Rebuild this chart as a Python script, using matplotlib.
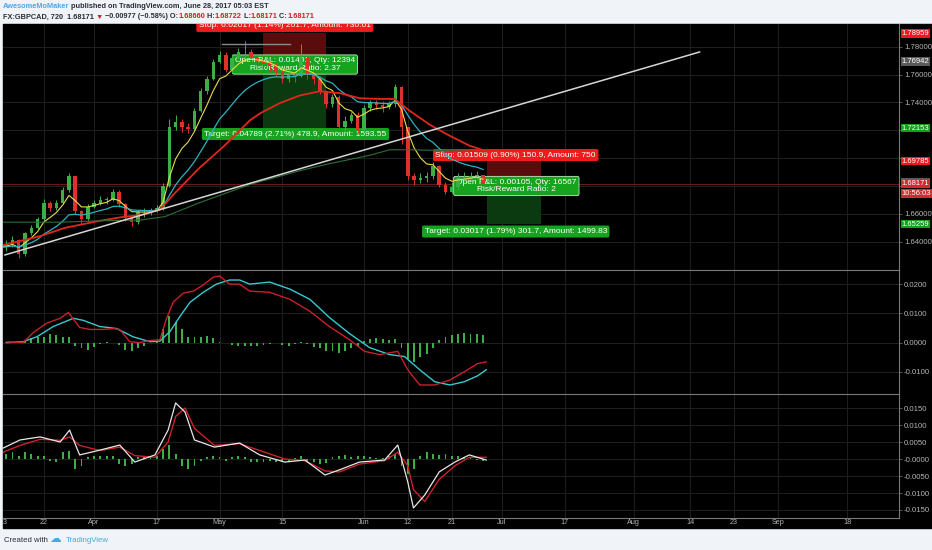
import numpy as np
import pandas as pd
import matplotlib
matplotlib.use("Agg")
import matplotlib.pyplot as plt
from matplotlib.patches import Rectangle
from matplotlib.text import Annotation
from matplotlib.transforms import blended_transform_factory

# ---- data: one candle per trading day, day 0 = 13 Mar 2017 ----
first_open = 1.640
closes = [1.636, 1.638, 1.641, 1.631, 1.646, 1.650, 1.656, 1.668, 1.664, 1.668,
          1.677, 1.687, 1.662, 1.656, 1.665, 1.668, 1.670, 1.670, 1.676, 1.667,
          1.657, 1.654, 1.661, 1.661, 1.662, 1.664, 1.680, 1.722, 1.726, 1.722,
          1.721, 1.734, 1.748, 1.757, 1.769, 1.774, 1.763, 1.772, 1.776, 1.776,
          1.772, 1.770, 1.768, 1.766, 1.762, 1.757, 1.760, 1.759, 1.772, 1.760,
          1.757, 1.748, 1.739, 1.744, 1.722, 1.727, 1.731, 1.720, 1.736, 1.740,
          1.738, 1.737, 1.739, 1.751, 1.722, 1.687, 1.684, 1.686, 1.687, 1.694,
          1.681, 1.676, 1.679, 1.686, 1.686, 1.687, 1.688, 1.6817]
highs = [1.643, 1.641, 1.644, 1.642, 1.647, 1.652, 1.658, 1.671, 1.669, 1.670,
         1.679, 1.689, 1.687, 1.663, 1.667, 1.670, 1.673, 1.672, 1.678, 1.677,
         1.668, 1.658, 1.663, 1.664, 1.664, 1.666, 1.682, 1.728, 1.731, 1.728,
         1.725, 1.736, 1.750, 1.759, 1.771, 1.777, 1.776, 1.775, 1.779, 1.784,
         1.778, 1.774, 1.773, 1.770, 1.768, 1.763, 1.762, 1.762, 1.782, 1.773,
         1.762, 1.758, 1.749, 1.746, 1.745, 1.730, 1.733, 1.733, 1.738, 1.742,
         1.742, 1.741, 1.741, 1.753, 1.752, 1.722, 1.689, 1.689, 1.690, 1.697,
         1.695, 1.683, 1.683, 1.689, 1.690, 1.690, 1.691, 1.6875]
lows = [1.634, 1.633, 1.636, 1.628, 1.630, 1.645, 1.649, 1.655, 1.662, 1.663,
        1.667, 1.676, 1.660, 1.653, 1.655, 1.664, 1.666, 1.667, 1.669, 1.665,
        1.655, 1.651, 1.653, 1.658, 1.659, 1.661, 1.663, 1.679, 1.720, 1.719,
        1.718, 1.720, 1.733, 1.746, 1.756, 1.768, 1.762, 1.761, 1.770, 1.772,
        1.768, 1.766, 1.764, 1.762, 1.758, 1.754, 1.755, 1.755, 1.758, 1.757,
        1.753, 1.746, 1.736, 1.737, 1.720, 1.719, 1.725, 1.718, 1.719, 1.734,
        1.735, 1.733, 1.735, 1.737, 1.710, 1.684, 1.681, 1.682, 1.683, 1.685,
        1.679, 1.674, 1.675, 1.677, 1.683, 1.684, 1.685, 1.681]

# slow moving averages (read at points)
red_ma_days = [0, 6.4, 10.4, 15.9, 19.9, 22.3, 25.5, 27.9, 31.8, 35.8, 39.8, 41.4,
               44.6, 47.8, 51, 54.1, 57.3, 60.5, 62.9, 65.3, 68.5, 71.7, 74.8, 77.5]
red_ma_vals = [1.637, 1.644, 1.650, 1.655, 1.658, 1.659, 1.663, 1.675, 1.693, 1.709,
               1.727, 1.732, 1.7395, 1.745, 1.748, 1.7467, 1.743, 1.7425, 1.7425,
               1.734, 1.724, 1.716, 1.709, 1.705]
green_ma_days = [0, 9.6, 15.9, 22.3, 26.3, 31.8, 39.8, 47.8, 52.5, 58.9, 62.1, 65.3, 70.1, 77.5]
green_ma_vals = [1.654, 1.654, 1.655, 1.6555, 1.658, 1.668, 1.681, 1.691, 1.696, 1.702,
                 1.706, 1.706, 1.7055, 1.7045]

trend_days = [0.8, 111.5]
trend_vals = [1.6305, 1.7762]

# MACD panel
macd_days = [1.1, 3.7, 5.3, 7.4, 9.6, 10.9, 12.7, 14.3, 16.5, 18, 19.1, 20.7, 22.3, 23.9,
             25.5, 26.5, 27.6, 29.2, 30.8, 32.4, 34, 35, 36.6, 38.2, 39.8, 43, 46.2,
             49.4, 52.5, 55.7, 58.1, 60.5, 63.4, 65, 66.9, 69.3, 71.7, 74, 76.1, 77.5]
macd_line = [0.0002, 0.0, 0.0034, 0.0066, 0.0083, 0.0103, 0.0052, 0.0045, 0.0045, 0.0048,
             0.0045, 0.0003, 0.0, 0.0007, 0.001, 0.0079, 0.0138, 0.0169, 0.0176, 0.0197,
             0.0224, 0.0228, 0.020, 0.020, 0.0176, 0.0172, 0.0148, 0.0107, 0.0055, 0.001,
             -0.003, -0.0041, -0.003, -0.0093, -0.0145, -0.0145, -0.0128, -0.010, -0.0072,
             -0.0066]
signal_days = [1.1, 3.7, 5.9, 8.5, 11.7, 13.3, 15.9, 18.6, 21.2, 23.9, 25.5, 27.1, 28.7,
               30.3, 32.4, 34.5, 36.6, 38.2, 39.8, 43, 46.2, 49.4, 52.5, 55.7, 58.9, 62.1,
               64.5, 66.9, 69.3, 71.7, 74, 76.1, 77.5]
signal_line = [0.0, 0.0003, 0.002, 0.0055, 0.0083, 0.0076, 0.0055, 0.0048, 0.002, 0.0003,
               0.0005, 0.0038, 0.009, 0.0138, 0.0172, 0.020, 0.0214, 0.0214, 0.020, 0.0207,
               0.0183, 0.0148, 0.0086, 0.0031, -0.0017, -0.0041, -0.0048, -0.0093, -0.0134,
               -0.0145, -0.0134, -0.0114, -0.0093]
macd_hist = [-0.0003, 0.0002, -0.0003, 0.0001, 0.001, 0.0015, 0.002, 0.002, 0.0028, 0.0025,
             0.002, 0.002, -0.0012, -0.002, -0.0024, -0.0015, -0.0005, 0.0002, -0.0003, -0.0008,
             -0.0025, -0.003, -0.002, -0.001, -0.0002, 0.0002, 0.0045, 0.009, 0.007, 0.0045,
             0.002, 0.0018, 0.002, 0.0022, 0.0015, 0.0003, -0.0002, -0.0008, -0.0013, -0.0013,
             -0.0012, -0.001, -0.0008, -0.0005, -0.0003, -0.0008, -0.001, -0.0005, 0.0003, -0.0005,
             -0.0015, -0.002, -0.0028, -0.003, -0.0035, -0.003, -0.002, -0.001, 0.0005, 0.0012,
             0.0015, 0.0012, 0.001, 0.0013, -0.002, -0.0055, -0.0065, -0.005, -0.004, -0.002,
             0.0008, 0.0018, 0.0025, 0.003, 0.0032, 0.003, 0.0028, 0.0025]

# second oscillator panel
osc_days = [0.5, 3.2, 6.4, 9.6, 11.1, 12.7, 15.9, 19.1, 21.5, 24.7, 26.8, 28, 29.5, 31,
            34.2, 38.2, 41.4, 45.4, 48.6, 51.8, 54.1, 57.3, 61.3, 63.4, 65, 65.9, 67.7,
            70, 72.5, 74.8, 77.5]
osc_fast = [0.0032, 0.0056, 0.0065, 0.005, 0.0085, 0.0012, 0.0026, 0.0041, -0.0009, 0.0012,
            0.0085, 0.0165, 0.0138, 0.0056, 0.0035, 0.0047, 0.0012, -0.0009, -0.0003, -0.0047,
            -0.0032, -0.0009, -0.0003, 0.0041, -0.0068, -0.0144, -0.0106, -0.0038, -0.0009,
            0.0012, -0.0003]
osc_slow = [0.002, 0.004, 0.0058, 0.0055, 0.0065, 0.004, 0.0025, 0.0035, 0.001, 0.0005,
            0.005, 0.0125, 0.015, 0.009, 0.004, 0.0045, 0.0025, 0.0, -0.0005, -0.0035,
            -0.0038, -0.0015, -0.0005, 0.002, -0.002, -0.009, -0.0125, -0.006, -0.002,
            0.0005, 0.0005]
osc_hist = [0.001, 0.0015, 0.002, 0.001, 0.002, 0.0015, 0.001, 0.0008, -0.0005, -0.001,
            0.002, 0.0025, -0.003, -0.002, 0.0005, 0.0008, 0.001, 0.0008, 0.001, -0.0015,
            -0.002, -0.0015, 0.0005, 0.0008, 0.0006, 0.0008, 0.003, 0.004, 0.0015, -0.002,
            -0.003, -0.002, -0.0005, 0.0005, 0.0008, 0.0005, -0.0005, 0.0005, 0.0008, 0.0005,
            -0.001, -0.0008, -0.001, -0.0005, -0.0008, -0.001, -0.0005, 0.0003, 0.0008, -0.0005,
            -0.001, -0.0015, -0.0012, 0.0005, 0.0008, 0.0012, 0.0005, 0.0008, 0.001, 0.0005,
            0.0002, 0.0004, 0.0008, 0.0015, -0.002, -0.0045, -0.003, 0.001, 0.002, 0.0015,
            0.0012, 0.0015, 0.001, 0.0008, 0.0005, 0.0003, -0.0003, -0.0005]

# position tools (short trades): entry, stop, target
pos1 = dict(entry=1.76942, stop=1.78959, target=1.72153, start=41.9, end=51.9)
pos2 = dict(entry=1.68276, stop=1.69785, target=1.65259, start=77.7, end=86.3)
last_price = 1.68171

tick_dates = ["2017-03-22", "2017-04-03", "2017-04-17", "2017-05-01", "2017-05-15",
              "2017-06-01", "2017-06-12", "2017-06-21", "2017-07-03", "2017-07-17",
              "2017-08-01", "2017-08-14", "2017-08-23", "2017-09-01", "2017-09-18"]
tick_labels = ["22", "Apr", "17", "May", "15", "Jun", "12", "21", "Jul", "17",
               "Aug", "14", "23", "Sep", "18"]

# ---- figure ----
W, H = 932, 550
plt.rcParams["font.family"] = ["Liberation Sans", "DejaVu Sans"]
fig = plt.figure(figsize=(W / 100, H / 100), dpi=100)
fig.patch.set_facecolor("#f0f3f7")

GREEN = "#3cae46"
RED = "#e0302c"
GRID = "#1f1f1f"
AXC = "#7a7a7a"
TXT = "#b4b4b4"


def box(x0, y0, x1, y1):
    return [x0 / W, 1 - y1 / H, (x1 - x0) / W, (y1 - y0) / H]


bg = Rectangle((3 / W, 1 - 528 / H), (W - 3) / W, 504 / H,
               transform=fig.transFigure, color="black", zorder=-5)
fig.add_artist(bg)

ax1 = fig.add_axes(box(3, 24, 899, 270))
ax2 = fig.add_axes(box(3, 270, 899, 394))
ax3 = fig.add_axes(box(3, 394, 899, 518))

bdays = pd.bdate_range("2017-03-13", "2017-09-29")
tick_pos = [bdays.get_loc(pd.Timestamp(d)) for d in tick_dates]

for ax in (ax1, ax2, ax3):
    ax.set_facecolor("black")
    ax.set_xlim(0.49, 143.28)
    ax.set_xticks(tick_pos)
    ax.grid(True, color=GRID, lw=0.7)
    ax.set_axisbelow(True)
    ax.yaxis.tick_right()
    ax.tick_params(axis="y", colors=AXC, labelcolor=TXT, labelsize=5.6, length=2, width=0.5, pad=1.5)
    ax.tick_params(axis="x", length=0)
    for s in ("left", "top"):
        ax.spines[s].set_visible(False)
    for s in ("right", "bottom"):
        ax.spines[s].set_color(AXC)
        ax.spines[s].set_linewidth(0.8)
ax1.spines["bottom"].set_visible(False)
ax2.spines["bottom"].set_visible(False)
for ax in (ax2, ax3):
    ax.spines["top"].set_visible(True)
    ax.spines["top"].set_color(AXC)
    ax.spines["top"].set_linewidth(0.8)
ax1.set_xticklabels([])
ax2.set_xticklabels([])
ax3.set_xticklabels(tick_labels)
ax3.tick_params(axis="x", labelcolor=TXT, labelsize=5.2, pad=1)

# ---- price panel ----
ax1.set_ylim(1.61968, 1.79630)
price_ticks = [1.64, 1.66, 1.68, 1.70, 1.72, 1.74, 1.76, 1.78]
ax1.set_yticks(price_ticks)
ax1.set_yticklabels(["1.64000", "1.66000", "", "", "", "1.74000", "1.76000", "1.78000"])

c = np.array(closes)
o = np.r_[first_open, c[:-1]]
days = np.arange(len(c))
cols = np.where(c >= o, GREEN, RED)
ax1.vlines(days, lows, highs, colors=cols, lw=0.7, zorder=5)
ax1.bar(days, np.maximum(np.abs(c - o), 0.0005), bottom=np.minimum(o, c), width=0.55,
        color=cols, zorder=5)

close_s = pd.Series(c)
ax1.plot(days, close_s.ewm(span=5, adjust=False).mean(), color="#e8dc4c", lw=0.8, zorder=6)
ax1.plot(days, close_s.ewm(span=13, adjust=False).mean(), color="#2bb3c0", lw=0.9, zorder=6)
ax1.plot(red_ma_days, red_ma_vals, color="#e2261c", lw=1.3, zorder=6)
ax1.plot(green_ma_days, green_ma_vals, color="#2d6e38", lw=0.8, zorder=6)
ax1.plot(trend_days, trend_vals, color="#d6d6d6", lw=1.1, zorder=7)
ax1.plot([35.4, 46.2], [1.7819, 1.7819], color="#8a8a8a", lw=1.0, zorder=7)
ax1.axhline(last_price, color="#6e1a1a", lw=0.7, zorder=2)

for p in (pos1, pos2):
    ax1.add_patch(Rectangle((p["start"], p["entry"]), p["end"] - p["start"], p["stop"] - p["entry"],
                            fc="#5a0c0c", ec="none", zorder=1))
    ax1.add_patch(Rectangle((p["start"], p["target"]), p["end"] - p["start"], p["entry"] - p["target"],
                            fc="#0c3a10", ec="none", zorder=1))


def tag(x, y, s, fc, ec="none"):
    return ax1.text(x, y, s, ha="center", va="center", color="white", fontsize=6.0,
                    linespacing=1.05, zorder=3, clip_on=True,
                    bbox=dict(boxstyle="round,pad=0.3,rounding_size=0.2", fc=fc, ec=ec, lw=0.6))


tag(45.4, 1.7949, "Stop: 0.02017 (1.14%) 201.7, Amount: 730.01", "#ee1c1c")
tag(47.0, 1.7672, "Open P&L: 0.01401, Qty: 12394\nRisk/Reward Ratio: 2.37", "#16a31d", "#bfe8c0")
tag(47.1, 1.7173, "Target: 0.04789 (2.71%) 478.9, Amount: 1593.55", "#16a31d")
tag(82.2, 1.7022, "Stop: 0.01509 (0.90%) 150.9, Amount: 750", "#ee1c1c")
tag(82.3, 1.6800, "Open P&L: 0.00105, Qty: 16567\nRisk/Reward Ratio: 2", "#16a31d", "#bfe8c0")
tag(82.2, 1.6473, "Target: 0.03017 (1.79%) 301.7, Amount: 1499.83", "#16a31d")

axis_tags = [(1.78959, "1.78959", "#f01818"), (1.76942, "1.76942", "#5a5a5a"),
             (1.72153, "1.72153", "#14a01c"), (1.69785, "1.69785", "#f01818"),
             (1.68276, "1.68276", "#5a5a5a"), (1.68171, "1.68171", "#d42a2a"),
             (1.67450, "10:56:03", "#d42a2a"), (1.65259, "1.65259", "#14a01c")]
tr = blended_transform_factory(ax1.transAxes, ax1.transData)
for y, s, fc in axis_tags:
    ax1.annotate(s, xy=(1, y), xycoords=tr, xytext=(2.0, 0), textcoords="offset points",
                 ha="left", va="center", fontsize=5.5, color="white",
                 annotation_clip=False,
                 bbox=dict(boxstyle="square,pad=0.1", fc=fc, ec="none"))

# ---- MACD panel ----
ax2.set_ylim(-0.017586, 0.024828)
ax2.set_yticks([-0.01, 0.0, 0.01, 0.02])
ax2.set_yticklabels(["-0.0100", "0.0000", "0.0100", "0.0200"])
hd = np.arange(len(macd_hist))
hcols = [GREEN] * len(macd_hist)
for i in range(4):
    hcols[i] = "#a0522d"
ax2.bar(hd, macd_hist, width=0.3, color=hcols, zorder=3)
ax2.plot(signal_days, signal_line, color="#37c9cf", lw=1.0, zorder=4)
ax2.plot(macd_days, macd_line, color="#c8202c", lw=1.0, zorder=5)

# ---- oscillator panel ----
ax3.set_ylim(-0.017353, 0.019118)
ax3.set_yticks([-0.015, -0.01, -0.005, 0.0, 0.005, 0.01, 0.015])
ax3.set_yticklabels(["-0.0150", "-0.0100", "-0.0050", "-0.0000", "0.0050", "0.0100", "0.0150"])
od = np.arange(len(osc_hist))
ax3.bar(od, osc_hist, width=0.3, color=GREEN, zorder=3)
ax3.plot(osc_days, osc_slow, color="#d0202a", lw=1.0, zorder=4)
ax3.plot(osc_days, osc_fast, color="#e8e8e8", lw=0.9, zorder=5)

# first date label, only its last digit shows at the left edge
fig.text(4.8 / W, 1 - 523 / H, "3", color=TXT, fontsize=5.2, ha="center", va="center")


# ---- header ----
def chain(parts, x, y, size, weight="bold"):
    t = fig.text(x, y, parts[0][0], color=parts[0][1], fontsize=size, fontweight=weight,
                 ha="left", va="center")
    for s, col in parts[1:]:
        t = fig.add_artist(Annotation(s, xy=(1, 0), xycoords=t, va="bottom", ha="left",
                                      color=col, fontsize=size, fontweight=weight))
    return t


DARK = "#2a2e39"
HRED = "#d32020"
chain([("AwesomeMoMaker", "#4aa8e6"),
       (" published on TradingView.com, June 28, 2017 05:03 EST", DARK)], 3 / W, 1 - 7 / H, 5.3)
chain([("FX:GBPCAD, 720  1.68171 ", DARK), ("\u25bc", HRED), (" \u22120.00977 (\u22120.58%) O:", DARK),
       ("1.68660", HRED), (" H:", DARK), ("1.68722", HRED), (" L:", DARK), ("1.68171", HRED),
       (" C:", DARK), ("1.68171", HRED)], 3 / W, 1 - 17 / H, 5.3)

# ---- footer ----
fig.text(4 / W, 1 - 540 / H, "Created with", color=DARK, fontsize=5.6, va="center")
fig.text(49 / W, 1 - 539 / H, "\u2601", color="#46a8e0", fontsize=8.5, va="center", family="DejaVu Sans")
fig.text(66 / W, 1 - 540 / H, "TradingView", color="#46a8e0", fontsize=5.6, va="center")

fig.savefig("out.png", dpi=100, facecolor=fig.get_facecolor())
